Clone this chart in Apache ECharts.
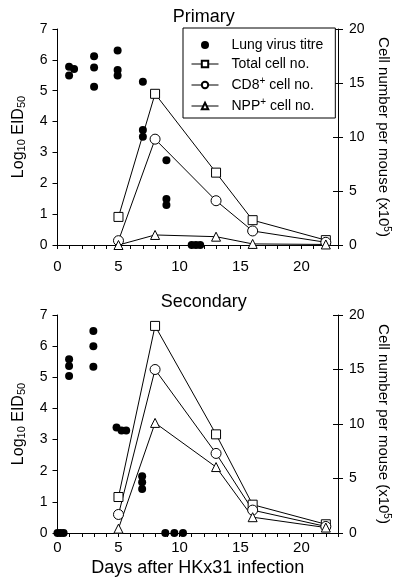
<!DOCTYPE html>
<html>
<head>
<meta charset="utf-8">
<script src="https://cdn.jsdelivr.net/npm/echarts@6/dist/echarts.min.js"></script>
<style>
html,body{margin:0;padding:0;background:#fff;}
#chart{width:400px;height:585px;}
</style>
</head>
<body>
<div id="chart"></div>
<script>
// ---- Data ----
const panelTitles = ['Primary', 'Secondary'];
const seriesNames = ['Lung virus titre', 'Total cell no.', 'CD8+ cell no.', 'NPP+ cell no.'];
const xTicks = [0, 5, 10, 15, 20];

const primaryTitreDays   = [0.95, 0.95, 1.36, 3, 3, 3, 4.93, 4.93, 4.93, 7, 7, 7, 8.93, 8.93, 8.93, 11, 11.35, 11.7];
const primaryTitreValues = [5.78, 5.49, 5.70, 6.12, 5.75, 5.13, 6.30, 5.67, 5.49, 5.29, 3.73, 3.51, 2.75, 1.49, 1.30, 0, 0, 0];

const secondaryTitreDays   = [0, 0.25, 0.5, 0.95, 0.95, 0.95, 2.94, 2.94, 2.94, 4.84, 5.25, 5.63, 6.94, 6.94, 6.94, 8.84, 9.58, 10.29];
const secondaryTitreValues = [0, 0, 0, 5.58, 5.36, 5.04, 6.49, 6.0, 5.34, 3.39, 3.29, 3.29, 1.82, 1.63, 1.41, 0, 0, 0];

const cellDays = [5, 8, 13, 16, 22];
const primaryTotal = [2.6, 14.0, 6.7, 2.3, 0.45];
const primaryCD8   = [0.4, 9.8, 4.1, 1.3, 0.25];
const primaryNPP   = [0.0, 0.93, 0.77, 0.1, 0.05];
const secondaryTotal = [3.3, 19.0, 9.05, 2.6, 0.8];
const secondaryCD8   = [1.7, 15.0, 7.3, 2.1, 0.6];
const secondaryNPP   = [0.4, 10.1, 6.05, 1.45, 0.5];

// ---- Helpers ----
const FONT = 'Liberation Sans, Arial, sans-serif';
const zip = (a, b) => a.map((v, i) => [v, b[i]]);

const grids = [
  {left: 57.5, right: 60, top: 29, height: 216},
  {left: 57.5, right: 60, top: 315, height: 218}
];

function xAxis(gi, withName, labelMargin) {
  return {
    type: 'value', gridIndex: gi, min: 0, max: 23, interval: 1,
    axisLine: {lineStyle: {color: '#000', width: 1}},
    axisTick: {length: 4, lineStyle: {color: '#000'}},
    axisLabel: {color: '#000', fontFamily: FONT, fontSize: 15, margin: labelMargin,
      formatter: v => (xTicks.indexOf(v) >= 0 ? String(v) : '')},
    splitLine: {show: false},
    name: withName ? 'Days after HKx31 infection' : '',
    nameLocation: 'middle', nameGap: 26,
    nameTextStyle: {color: '#000', fontFamily: FONT, fontSize: 18}
  };
}

function leftAxis(gi) {
  return {
    type: 'value', gridIndex: gi, position: 'left', min: 0, max: 7, interval: 1,
    axisLine: {show: true, lineStyle: {color: '#000', width: 1}},
    axisTick: {show: true, length: 5, lineStyle: {color: '#000'}},
    axisLabel: {color: '#000', fontFamily: FONT, fontSize: 14, margin: 10},
    splitLine: {show: false},
    name: 'Log{sub|10} EID{sub|50}', nameLocation: 'middle', nameGap: 30, nameRotate: 90,
    nameTextStyle: {color: '#000', fontFamily: FONT, fontSize: 16,
      rich: {sub: {fontFamily: FONT, fontSize: 11, color: '#000', padding: [7, 0, 0, 0]}}}
  };
}

function rightAxis(gi) {
  return {
    type: 'value', gridIndex: gi, position: 'right', min: 0, max: 20, interval: 5,
    axisLine: {show: true, lineStyle: {color: '#000', width: 1}},
    axisTick: {show: true, length: 5, lineStyle: {color: '#000'}},
    axisLabel: {color: '#000', fontFamily: FONT, fontSize: 14, margin: 11},
    splitLine: {show: false},
    name: 'Cell number per mouse (x10{sup|5})', nameLocation: 'middle', nameGap: 33, nameRotate: -90,
    nameTextStyle: {color: '#000', fontFamily: FONT, fontSize: 15,
      rich: {sup: {fontFamily: FONT, fontSize: 10, color: '#000', padding: [0, 0, 8, 0]}}}
  };
}

function rightInnerTicks(gi) {
  return {
    type: 'value', gridIndex: gi, position: 'right', offset: 0, min: 0, max: 20, interval: 5,
    axisLine: {show: false},
    axisTick: {show: true, inside: true, length: 5, lineStyle: {color: '#000'}},
    axisLabel: {show: false}, splitLine: {show: false}
  };
}

function titreSeries(gi, days, vals) {
  return {
    name: seriesNames[0], type: 'scatter', xAxisIndex: gi, yAxisIndex: gi * 3,
    data: zip(days, vals), symbol: 'circle', symbolSize: 8, clip: false,
    itemStyle: {color: '#000', opacity: 1}, z: 3
  };
}

function cellSeries(gi, name, symbol, size, vals) {
  return {
    name: name, type: 'line', xAxisIndex: gi, yAxisIndex: gi * 3 + 1,
    data: zip(cellDays, vals), symbol: symbol, symbolSize: size, showAllSymbol: true,
    clip: false,
    lineStyle: {color: '#000', width: 1},
    itemStyle: {color: '#fff', borderColor: '#000', borderWidth: 1},
    emphasis: {disabled: true}, z: 4
  };
}

const option = {
  backgroundColor: '#fff',
  animation: false,
  title: [
    {text: panelTitles[0], left: 198.75, top: 3, textAlign: 'center',
     textStyle: {fontFamily: FONT, fontSize: 18, fontWeight: 'normal', color: '#000'}},
    {text: panelTitles[1], left: 198.75, top: 288, textAlign: 'center',
     textStyle: {fontFamily: FONT, fontSize: 18, fontWeight: 'normal', color: '#000'}}
  ],
  grid: grids,
  xAxis: [xAxis(0, false, 14), xAxis(1, true, 7)],
  yAxis: [leftAxis(0), rightAxis(0), rightInnerTicks(0), leftAxis(1), rightAxis(1), rightInnerTicks(1)],
  legend: {
    orient: 'vertical', left: 183, top: 28,
    padding: [10, 12, 5, 8], itemGap: 5,
    itemWidth: 27, itemHeight: 8,
    borderColor: '#000', borderWidth: 1, backgroundColor: '#fff',
    data: seriesNames,
    formatter: n => n.replace('+', '{sup|+}'),
    lineStyle: {width: 1, color: '#000'},
    textStyle: {fontFamily: FONT, fontSize: 14, color: '#000', padding: [0, 0, 0, 8],
      rich: {sup: {fontFamily: FONT, fontSize: 10, color: '#000', padding: [0, 0, 8, 0]}}},
    selectedMode: false
  },
  series: [
    titreSeries(0, primaryTitreDays, primaryTitreValues),
    cellSeries(0, seriesNames[1], 'rect', 9, primaryTotal),
    cellSeries(0, seriesNames[2], 'circle', 10, primaryCD8),
    cellSeries(0, seriesNames[3], 'triangle', 9, primaryNPP),
    titreSeries(1, secondaryTitreDays, secondaryTitreValues),
    cellSeries(1, seriesNames[1], 'rect', 9, secondaryTotal),
    cellSeries(1, seriesNames[2], 'circle', 10, secondaryCD8),
    cellSeries(1, seriesNames[3], 'triangle', 9, secondaryNPP)
  ]
};

const chart = echarts.init(document.getElementById('chart'), null, {renderer: 'canvas'});
chart.setOption(option);
</script>
</body>
</html>
